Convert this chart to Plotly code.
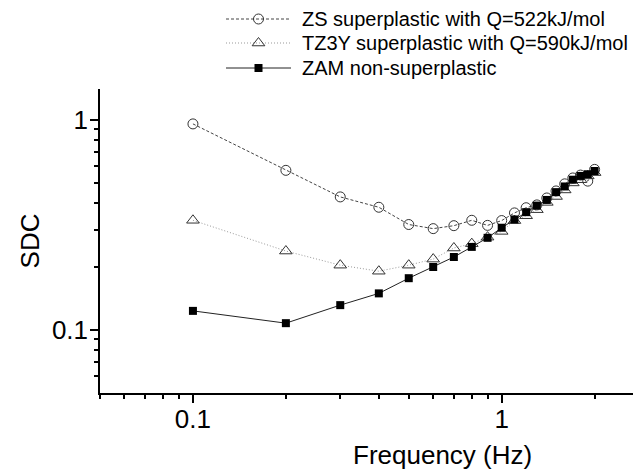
import plotly.graph_objects as go
import numpy as np

# Data
freq = [0.1, 0.2, 0.3, 0.4, 0.5, 0.6, 0.7, 0.8, 0.9, 1.0,
        1.1, 1.2, 1.3, 1.4, 1.5, 1.6, 1.7, 1.8, 1.9, 2.0]
zs   = [0.955, 0.574, 0.429, 0.383, 0.317, 0.303, 0.313, 0.332, 0.314, 0.331,
        0.360, 0.381, 0.393, 0.424, 0.458, 0.495, 0.528, 0.545, 0.510, 0.580]
tz3y = [0.332, 0.237, 0.203, 0.190, 0.203, 0.217, 0.245, 0.257, 0.276, 0.294,
        0.331, 0.349, 0.373, 0.404, 0.431, 0.463, 0.500, 0.518, 0.540, 0.560]
zam  = [0.123, 0.1075, 0.131, 0.149, 0.176, 0.199, 0.222, 0.248, 0.274, 0.306,
        0.335, 0.363, 0.390, 0.415, 0.452, 0.481, 0.518, 0.540, 0.550, 0.570]
names = ["ZS superplastic with Q=522kJ/mol", "TZ3Y superplastic with Q=590kJ/mol", "ZAM non-superplastic"]
x_ticks = [0.1, 1]
x_minor = [0.05, 0.06, 0.07, 0.08, 0.09, 0.2, 0.3, 0.4, 0.5, 0.6, 0.7, 0.8, 0.9, 2, 3]
y_ticks = [0.1, 1]
y_minor = [0.06, 0.07, 0.08, 0.09, 0.2, 0.3, 0.4, 0.5, 0.6, 0.7, 0.8, 0.9]

FONT = "Liberation Sans, Arial, sans-serif"
W, H = 641, 470
# plot-area edges in page pixels
PL, PR, PT, PB = 92, 641, 81, 385

styles = [
    dict(line=dict(color="#444", width=1, dash="3px,2px"),
         marker=dict(symbol="circle-open", size=10, color="#333", line=dict(width=1))),
    dict(line=dict(color="#999", width=1, dash="1px,2px"),
         marker=dict(symbol="triangle-up-open", size=11, color="#333", line=dict(width=1))),
    dict(line=dict(color="#222", width=1),
         marker=dict(symbol="square", size=8, color="black")),
]

fig = go.Figure()
for ys, st, nm in zip([zs, tz3y, zam], styles, names):
    fig.add_trace(go.Scatter(x=freq, y=ys, mode="lines+markers", name=nm,
                             line=st["line"], marker=st["marker"], showlegend=False))

# custom legend drawn on a full-page overlay axis (page pixel units)
leg_rows = [11, 35, 60]
leg_x0, leg_x1, leg_tx = 218, 283, 292
for ry, st, nm in zip(leg_rows, styles, names):
    fig.add_trace(go.Scatter(x=[leg_x0, leg_x1], y=[ry, ry], mode="lines", line=st["line"],
                             xaxis="x2", yaxis="y2", showlegend=False, hoverinfo="skip"))
    fig.add_trace(go.Scatter(x=[(leg_x0 + leg_x1) / 2], y=[ry], mode="markers", marker=st["marker"],
                             xaxis="x2", yaxis="y2", showlegend=False, hoverinfo="skip"))
    fig.add_annotation(x=leg_tx, y=ry, xref="x2", yref="y2", text=nm, showarrow=False,
                       xanchor="left", yanchor="middle", font=dict(family=FONT, size=20, color="black"))

# x-axis title
fig.add_annotation(x=434, y=447, xref="x2", yref="y2", text="Frequency (Hz)",
                   showarrow=False, xanchor="center", yanchor="middle",
                   font=dict(family=FONT, size=26, color="black"))

axis_common = dict(showline=True, linecolor="black", linewidth=1.5, ticks="outside",
                   tickcolor="black", tickwidth=1.5, ticklen=8, showgrid=False, zeroline=False,
                   tickfont=dict(family=FONT, size=26, color="black"), mirror=False)

fig.update_layout(
    width=W, height=H, margin=dict(l=0, r=0, t=0, b=0),
    paper_bgcolor="white", plot_bgcolor="rgba(0,0,0,0)",
    xaxis=dict(type="log", domain=[PL / W, PR / W], range=[np.log10(0.05), np.log10(3.0)],
               tickmode="array", tickvals=x_ticks, ticktext=["0.1", "1"], ticklabelstandoff=-6,
               minor=dict(tickmode="array", tickvals=x_minor, ticks="outside", ticklen=4,
                          tickcolor="black", tickwidth=1.5, showgrid=False),
               anchor="y", **axis_common),
    yaxis=dict(type="log", domain=[(H - PB) / H, (H - PT) / H], range=[np.log10(0.05), np.log10(1.4)],
               tickmode="array", tickvals=y_ticks, ticktext=["0.1", "1"], ticklabelstandoff=-3,
               minor=dict(tickmode="array", tickvals=y_minor, ticks="outside", ticklen=4,
                          tickcolor="black", tickwidth=1.5, showgrid=False),
               title=dict(text="SDC", font=dict(family=FONT, size=26, color="black"), standoff=5),
               anchor="x", **axis_common),
    xaxis2=dict(domain=[0, 1], range=[0, W], visible=False, anchor="y2", fixedrange=True),
    yaxis2=dict(domain=[0, 1], range=[H, 0], visible=False, anchor="x2", fixedrange=True),
)

fig.write_html("out.html")
